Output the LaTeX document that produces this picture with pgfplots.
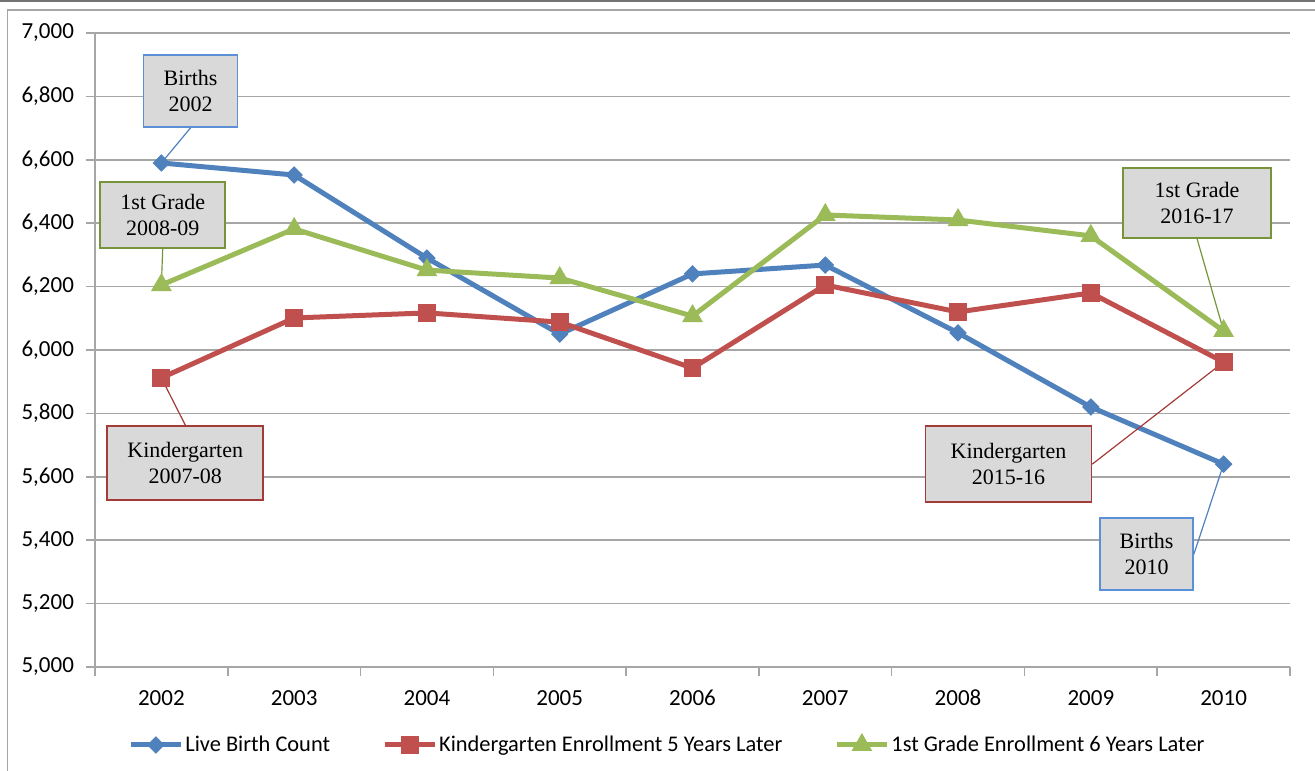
\documentclass[border=0pt]{standalone}
\usepackage{pgfplots}
\pgfplotsset{compat=1.18}
\usepackage{fontspec}
\setmainfont{Carlito}
\newfontfamily\calloutfont{Liberation Serif}
\usetikzlibrary{plotmarks}

\definecolor{xlblue}{HTML}{4F81BD}
\definecolor{xlred}{HTML}{C0504D}
\definecolor{xlgreen}{HTML}{9BBB59}
\definecolor{bxblue}{HTML}{5B8FD6}
\definecolor{bxred}{HTML}{A33B39}
\definecolor{bxgreen}{HTML}{77933C}
\definecolor{boxfill}{HTML}{D9D9D9}
\definecolor{gridgray}{HTML}{A6A6A6}

\tikzset{callout/.style={draw=#1, fill=boxfill, line width=0.8pt, align=center,
    font=\calloutfont\fontsize{11}{13}\selectfont, inner sep=2pt}}

\begin{document}
\begin{tikzpicture}
% page = 1315 x 770 px at 0.5pt per px, axis box lower left at (0,0)
\useasboundingbox (-47.5pt,-51.5pt) rectangle (610pt,333.5pt);
\draw[draw=gray!90!black, line width=1.2pt] (-47.5pt,333pt) -- (610pt,333pt);
\draw[draw=gridgray, line width=0.8pt] (-43.75pt,-60pt) -- (-43.75pt,328.5pt) -- (620pt,328.5pt);

\begin{axis}[
    at={(0,0)}, anchor=south west,
    scale only axis,
    width=597.5pt, height=317pt,
    xmin=-0.5, xmax=8.5,
    ymin=5000, ymax=7000,
    xtick={0,...,8},
    xticklabels={2002,2003,2004,2005,2006,2007,2008,2009,2010},
    minor xtick={-0.5,0.5,...,8.5},
    ytick={5000,5200,...,7000},
    axis lines=left,
    axis line style={-, draw=gridgray, line width=0.8pt},
    ymajorgrids=true,
    grid style={draw=gridgray, line width=0.8pt},
    tick align=outside,
    major tick length=4.5pt,
    minor tick length=4.5pt,
    xtick style={draw=none},
    minor x tick style={draw=gridgray, line width=0.8pt},
    ytick style={draw=gridgray, line width=0.8pt},
    ticklabel style={font=\fontsize{11.5}{13}\selectfont},
    xticklabel style={yshift=-3pt, text height=8pt, text depth=0pt},
    yticklabel style={xshift=-2.5pt},
    /pgf/number format/.cd, 1000 sep={,}, assume math mode=true,
    /pgfplots/.cd,
    clip=false,
    legend columns=3,
    legend style={at={(axis description cs:0.0276,-0.123)}, anchor=west,
        draw=none, fill=none, inner sep=0pt,
        font=\fontsize{11.2}{13}\selectfont,
        nodes={inner xsep=1pt},
        /tikz/every even column/.append style={column sep=25pt}},
    legend cell align=left,
    legend image code/.code={
        \draw[#1, mark repeat=2, mark phase=2] plot coordinates {(0pt,0pt) (12.5pt,0pt) (25pt,0pt)};
    },
]

\addplot[color=xlblue, line width=2.5pt, mark=square*, mark size=2.85pt,
    mark options={solid, line width=0.5pt, rotate=45}]
    coordinates {(0,6590) (1,6552) (2,6290) (3,6050) (4,6240) (5,6268) (6,6054) (7,5820) (8,5640)};
\addlegendentry{Live Birth Count}

\addplot[color=xlred, line width=2.5pt, mark=square*, mark size=4.2pt,
    mark options={solid, line width=0.5pt}]
    coordinates {(0,5912) (1,6101) (2,6117) (3,6088) (4,5943) (5,6205) (6,6120) (7,6180) (8,5962)};
\addlegendentry{Kindergarten Enrollment 5 Years Later}

\addplot[color=xlgreen, line width=2.5pt, mark=triangle*, mark size=5.5pt,
    mark options={solid, line width=0.5pt}]
    coordinates {(0,6205) (1,6382) (2,6252) (3,6227) (4,6107) (5,6426) (6,6410) (7,6360) (8,6060)};
\addlegendentry{1st Grade Enrollment 6 Years Later}

% callouts
\node[callout=bxblue, minimum width=47pt, minimum height=36pt] (b02) at (axis cs:0.22,6817) {Births\\2002};
\draw[xlblue, line width=0.6pt] (b02.south) -- (axis cs:0,6590);

\node[callout=bxgreen, minimum width=62.5pt, minimum height=33pt] (g08) at (axis cs:0.01,6426) {1st Grade\\2008-09};
\draw[bxgreen, line width=0.6pt] (g08.south) -- (axis cs:0,6205);

\node[callout=bxred, minimum width=78pt, minimum height=37pt] (k07) at (axis cs:0.18,5644) {Kindergarten\\2007-08};
\draw[bxred, line width=0.6pt] (k07.north) -- (axis cs:0,5912);

\node[callout=bxgreen, minimum width=74pt, minimum height=35pt] (g16) at (axis cs:7.8,6464) {1st Grade\\2016-17};
\draw[bxgreen, line width=0.6pt] (g16.south) -- (axis cs:8,6060);

\node[callout=bxred, minimum width=83pt, minimum height=38pt] (k15) at (axis cs:6.38,5640) {Kindergarten\\2015-16};
\draw[bxred, line width=0.6pt] (k15.east) -- (axis cs:8,5962);

\node[callout=bxblue, minimum width=46.5pt, minimum height=36pt] (b10) at (axis cs:7.42,5356) {Births\\2010};
\draw[xlblue, line width=0.6pt] (b10.east) -- (axis cs:8,5640);

\end{axis}
\end{tikzpicture}
\end{document}
